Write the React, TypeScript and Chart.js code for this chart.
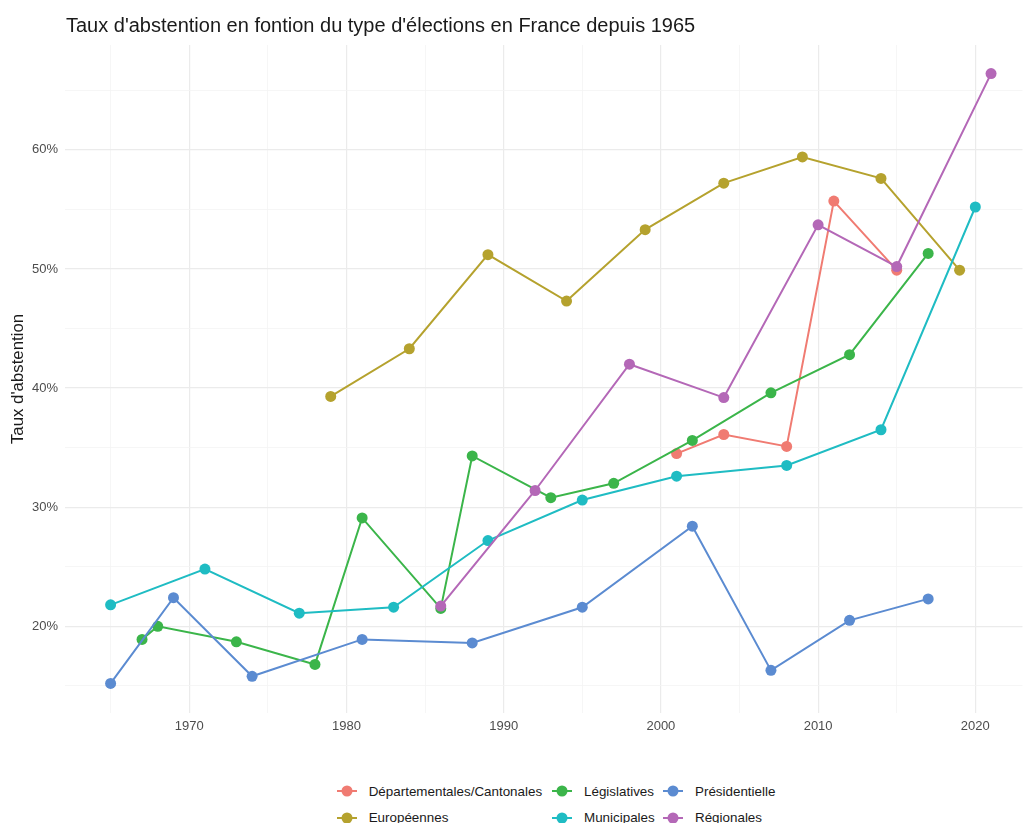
import React, { useEffect, useRef } from "react";
import { Chart, registerables } from "chart.js";

Chart.register(...registerables);

const TITLE = "Taux d'abstention en fontion du type d'élections en France depuis 1965";
const Y_TITLE = "Taux d'abstention";

const seriesNames = [
  "Départementales/Cantonales",
  "Européennes",
  "Législatives",
  "Municipales",
  "Présidentielle",
  "Régionales",
];
const seriesColors = ["#F07B72", "#B5A22E", "#3BB54A", "#1FBCC3", "#5B8BD1", "#B468B7"];

const depYears = [2001, 2004, 2008, 2011, 2015];
const depVals = [34.5, 36.1, 35.1, 55.7, 49.9];
const eurYears = [1979, 1984, 1989, 1994, 1999, 2004, 2009, 2014, 2019];
const eurVals = [39.3, 43.3, 51.2, 47.3, 53.3, 57.2, 59.4, 57.6, 49.9];
const legYears = [1967, 1968, 1973, 1978, 1981, 1986, 1988, 1993, 1997, 2002, 2007, 2012, 2017];
const legVals = [18.9, 20.0, 18.7, 16.8, 29.1, 21.5, 34.3, 30.8, 32.0, 35.6, 39.6, 42.8, 51.3];
const munYears = [1965, 1971, 1977, 1983, 1989, 1995, 2001, 2008, 2014, 2020];
const munVals = [21.8, 24.8, 21.1, 21.6, 27.2, 30.6, 32.6, 33.5, 36.5, 55.2];
const presYears = [1965, 1969, 1974, 1981, 1988, 1995, 2002, 2007, 2012, 2017];
const presVals = [15.2, 22.4, 15.8, 18.9, 18.6, 21.6, 28.4, 16.3, 20.5, 22.3];
const regYears = [1986, 1992, 1998, 2004, 2010, 2015, 2021];
const regVals = [21.7, 31.4, 42.0, 39.2, 53.7, 50.2, 66.4];

const xTicks = [1965, 1970, 1975, 1980, 1985, 1990, 1995, 2000, 2005, 2010, 2015, 2020];
const yTicks = [15, 20, 25, 30, 35, 40, 45, 50, 55, 60, 65];

const FONT = "'Liberation Sans', Arial, Helvetica, sans-serif";

const seriesYears = [depYears, eurYears, legYears, munYears, presYears, regYears];
const seriesVals = [depVals, eurVals, legVals, munVals, presVals, regVals];

// legend layout: column-major like ggplot (2 rows)
const legendCols = [336.7, 552, 663];
const legendRows = [791, 817.7];

const titlePlugin = {
  id: "leftTitle",
  afterDraw(chart: any) {
    const ctx = chart.ctx;
    ctx.save();
    ctx.font = `20px ${FONT}`;
    ctx.fillStyle = "#1a1a1a";
    ctx.textAlign = "left";
    ctx.textBaseline = "alphabetic";
    ctx.fillText(TITLE, chart.chartArea.left + 1, 32);
    ctx.restore();
  },
};

export default function App() {
  const ref = useRef<HTMLCanvasElement | null>(null);

  useEffect(() => {
    if (!ref.current) return;
    const datasets = seriesNames.map((name, i) => ({
      label: name,
      data: seriesYears[i].map((yr, j) => ({ x: yr, y: seriesVals[i][j] })),
      borderColor: seriesColors[i],
      backgroundColor: seriesColors[i],
      pointBackgroundColor: seriesColors[i],
      pointBorderWidth: 0,
      pointRadius: 5.5,
      pointHoverRadius: 5.5,
      borderWidth: 2,
      tension: 0,
      order: seriesNames.length - i,
    }));
    const chart = new Chart(ref.current, {
      type: "line",
      data: { datasets },
      plugins: [titlePlugin],
      options: {
        animation: false,
        responsive: false,
        maintainAspectRatio: false,
        layout: { padding: { top: 45, right: 3, left: 0, bottom: 0 } },
        plugins: {
          legend: { display: false },
          tooltip: { enabled: false },
          title: { display: false },
        },
        scales: {
          x: {
            type: "linear",
            min: 1962.1,
            max: 2023.0,
            afterBuildTicks: (scale: any) => {
              scale.ticks = xTicks.map((v) => ({ value: v }));
            },
            afterFit: (scale: any) => {
              scale.height = 47;
            },
            border: { display: false },
            grid: {
              drawTicks: false,
              color: (c: any) => (c.tick && c.tick.value % 10 === 0 ? "#EBEBEB" : "#F4F4F4"),
              lineWidth: (c: any) => (c.tick && c.tick.value % 10 === 0 ? 1.2 : 0.8),
            },
            ticks: {
              padding: 6,
              color: "#4D4D4D",
              font: { family: FONT, size: 13 },
              maxRotation: 0,
              autoSkip: false,
              callback: (v: any) => (Number(v) % 10 === 0 ? String(v) : ""),
            },
          },
          y: {
            type: "linear",
            min: 12.72,
            max: 68.8,
            afterBuildTicks: (scale: any) => {
              scale.ticks = yTicks.map((v) => ({ value: v }));
            },
            afterFit: (scale: any) => {
              scale.width = 65;
            },
            border: { display: false },
            grid: {
              drawTicks: false,
              color: (c: any) => (c.tick && c.tick.value % 10 === 0 ? "#EBEBEB" : "#F4F4F4"),
              lineWidth: (c: any) => (c.tick && c.tick.value % 10 === 0 ? 1.2 : 0.8),
            },
            ticks: {
              padding: 7,
              color: "#4D4D4D",
              font: { family: FONT, size: 13 },
              autoSkip: false,
              callback: (v: any) => (Number(v) % 10 === 0 ? `${v}%` : ""),
            },
            title: {
              display: true,
              text: Y_TITLE,
              color: "#1a1a1a",
              font: { family: FONT, size: 16.8 },
              padding: { top: 8.4, bottom: 0 },
            },
          },
        },
      },
    });
    return () => chart.destroy();
  }, []);

  return (
    <div style={{ position: "absolute", left: 0, top: 0, width: 1028, height: 823, background: "#fff", overflow: "hidden" }}>
      <canvas ref={ref} width={1028} height={760} style={{ position: "absolute", left: 0, top: 0, width: 1028, height: 760 }} />
      {seriesNames.map((name, i) => {
        const col = Math.floor(i / 2);
        const row = i % 2;
        return (
          <div
            key={name}
            style={{
              position: "absolute",
              left: legendCols[col],
              top: legendRows[row] - 10,
              height: 20,
              display: "flex",
              alignItems: "center",
              fontFamily: FONT,
              fontSize: 13.4,
              color: "#1a1a1a",
              whiteSpace: "nowrap",
            }}
          >
            <svg width={20} height={20} style={{ marginRight: 12, flex: "none" }}>
              <line x1={0} y1={10} x2={20} y2={10} stroke={seriesColors[i]} strokeWidth={2} />
              <circle cx={10} cy={10} r={5.5} fill={seriesColors[i]} />
            </svg>
            <span>{name}</span>
          </div>
        );
      })}
    </div>
  );
}
